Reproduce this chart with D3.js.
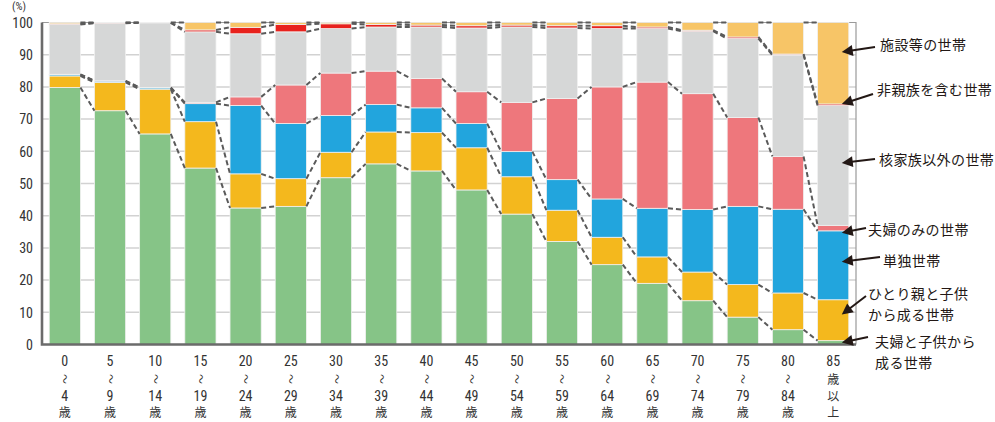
<!DOCTYPE html>
<html><head><meta charset="utf-8">
<script src="https://cdn.jsdelivr.net/npm/d3@7"></script>
<style>
html,body{margin:0;padding:0;background:#fff;}
svg{display:block;}
</style></head>
<body>
<svg id="chart" width="995" height="422"></svg>
<script>
// ---- data ----
const ageFrom = ["0","5","10","15","20","25","30","35","40","45","50","55","60","65","70","75","80","85"];
const ageTo   = ["4","9","14","19","24","29","34","39","44","49","54","59","64","69","74","79","84",""];
const seriesNames = ["夫婦と子供から成る世帯","ひとり親と子供から成る世帯","単独世帯","夫婦のみの世帯","核家族以外の世帯","非親族を含む世帯","施設等の世帯"];
const coupleChildren = [79.8,72.6,65.4,54.8,42.4,42.9,51.8,56.1,53.9,48.0,40.5,32.0,24.8,19.0,13.6,8.5,4.6,1.2];
const singleParent   = [3.6,8.8,13.9,14.4,10.6,8.6,7.9,9.9,11.9,13.1,11.6,9.7,8.5,8.2,8.9,10.1,11.4,12.7];
const singleHH       = [0.4,0.4,0.4,5.6,21.2,17.1,11.4,8.5,7.7,7.5,7.8,9.5,11.9,15.1,19.4,24.3,26.0,21.4];
const coupleOnly     = [0.1,0.1,0.1,0.4,2.7,12.0,13.2,10.4,9.1,9.9,15.3,25.2,34.8,39.2,36.0,27.6,16.4,1.7];
const otherKin       = [15.5,17.9,20.1,21.9,19.6,16.5,13.8,13.7,16.0,19.8,23.4,21.9,18.1,16.6,19.4,24.5,31.5,37.2];
const nonKin         = [0.2,0.1,0.05,0.6,2.0,2.3,1.5,0.8,0.6,0.7,0.6,0.7,0.9,0.5,0.3,0.5,0.3,0.5];
const facility       = [0.4,0.1,0.05,2.3,1.5,0.6,0.4,0.6,0.8,1.0,0.8,1.0,1.0,1.4,2.4,4.5,9.8,25.3];
const yTicks = [0,10,20,30,40,50,60,70,80,90,100];
// annotation labels (right side) with the value they point at on the last bar
const annotLines = [["施設等の世帯"],["非親族を含む世帯"],["核家族以外の世帯"],["夫婦のみの世帯"],["単独世帯"],["ひとり親と子供","から成る世帯"],["夫婦と子供から","成る世帯"]];
const annotTarget = [90.8,74.7,56.4,34.7,25.7,9.3,0.6];

// ---- layout ----
const colors = ["#86C487","#F4B81D","#22A5DD","#EE777C","#D6D7D7","#E8221D","#F7C567"];
const allSeries = [coupleChildren,singleParent,singleHH,coupleOnly,otherKin,nonKin,facility];
const cats = ageFrom.map((d,i)=>i);
const rows = cats.map(i=>{const r={cat:i}; seriesNames.forEach((s,k)=>r[s]=allSeries[k][i]); return r;});
const stacked = d3.stack().keys(seriesNames)(rows);

const svg = d3.select("#chart");
const L=42, R=856, T=22.5, B=344.5;
const x = d3.scaleBand().domain(cats).range([L,R]).paddingInner(0.31).paddingOuter(0.16);
const y = d3.scaleLinear().domain([0,100]).range([B,T]);
const numFont = "'Liberation Sans Narrow','Arial Narrow','Roboto Condensed','Liberation Sans',sans-serif";
const jpFont = "'Noto Sans CJK JP','Noto Sans',sans-serif";

// gridlines
svg.append("g").selectAll("line").data(yTicks.filter(t=>t>0&&t<100)).join("line")
  .attr("x1",L).attr("x2",R).attr("y1",d=>y(d)).attr("y2",d=>y(d))
  .attr("stroke","#d2d2d2").attr("stroke-width",1.5);

// plot border (top/right)
svg.append("path").attr("d",`M${L},${T}H${R}V${B}`).attr("fill","none").attr("stroke","#9a9a9a").attr("stroke-width",1.2);

// bars
const gBars = svg.append("g");
stacked.forEach((layer,k)=>{
  gBars.append("g").selectAll("rect").data(layer).join("rect")
    .attr("x",d=>x(d.data.cat)).attr("width",x.bandwidth())
    .attr("y",d=>y(d[1])).attr("height",d=>Math.max(0,y(d[0])-y(d[1])))
    .attr("fill",colors[k]).attr("stroke","#f0f0f0").attr("stroke-width",0.8);
});

// series lines (dashed connectors)
const gLines = svg.append("g");
stacked.forEach((layer,k)=>{
  for(let i=0;i<layer.length-1;i++){
    gLines.append("line")
      .attr("x1",x(i)+x.bandwidth()).attr("y1",y(layer[i][1]))
      .attr("x2",x(i+1)).attr("y2",y(layer[i+1][1]))
      .attr("stroke","#5a5a5a").attr("stroke-width",2).attr("stroke-dasharray","5,3");
  }
});

// axes lines
svg.append("path").attr("d",`M${L},${T}V${B}H${R}`).attr("fill","none").attr("stroke","#6b6b6b").attr("stroke-width",2.6);

// y axis labels
const yAxis = d3.axisLeft(y).tickValues(yTicks).tickSize(0).tickPadding(9);
const gy = svg.append("g").attr("transform",`translate(${L},0)`).call(yAxis);
gy.select(".domain").remove();
gy.selectAll("text").attr("font-family",numFont).attr("font-size",14).attr("fill","#333").attr("dy","0.34em");

svg.append("text").attr("x",12).attr("y",10).attr("font-family",numFont).attr("font-size",11).attr("fill","#333").text("(%)");

// x labels (vertical stacks)
const gx = svg.append("g");
cats.forEach(i=>{
  const cx = x(i)+x.bandwidth()/2;
  const g = gx.append("g").attr("transform",`translate(${cx},0)`);
  g.append("text").attr("y",366).attr("text-anchor","middle").attr("font-family",numFont).attr("font-size",14).attr("fill","#333").text(ageFrom[i]);
  if(ageTo[i]!==""){
    g.append("text").attr("transform","translate(0,379) rotate(90)").attr("text-anchor","middle").attr("dy","0.35em")
      .attr("font-family",jpFont).attr("font-size",10).attr("fill","#333").text("～");
    g.append("text").attr("y",401).attr("text-anchor","middle").attr("font-family",numFont).attr("font-size",14).attr("fill","#333").text(ageTo[i]);
    g.append("text").attr("y",417).attr("text-anchor","middle").attr("font-family",jpFont).attr("font-size",12).attr("fill","#333").text("歳");
  } else {
    ["歳","以","上"].forEach((c,j)=>{
      g.append("text").attr("y",384+j*16.5).attr("text-anchor","middle").attr("font-family",jpFont).attr("font-size",12).attr("fill","#333").text(c);
    });
  }
});

// annotations
const annotPos = [
  {tx:880,ty:50,ax:875,ay:47},
  {tx:877,ty:95,ax:873,ay:94},
  {tx:879,ty:165,ax:875,ay:159},
  {tx:868,ty:235,ax:866,ay:228},
  {tx:883,ty:266,ax:880,ay:257},
  {tx:868,ty:299,ax:866,ay:296},
  {tx:875,ty:347,ax:868,ay:337}
];
const gA = svg.append("g");
annotLines.forEach((lines,k)=>{
  const p = annotPos[k];
  const t = gA.append("text").attr("font-family",jpFont).attr("font-size",14).attr("letter-spacing",0.4).attr("fill","#231815");
  lines.forEach((ln,j)=>t.append("tspan").attr("x",p.tx).attr("y",p.ty+j*21).text(ln));
  const hx = x(17)+x.bandwidth()-7, hy = y(annotTarget[k]);
  const dx = hx-p.ax, dy = hy-p.ay, len=Math.hypot(dx,dy), ux=dx/len, uy=dy/len;
  const hl=11, hw=5.5;
  const bx = hx-ux*hl, by = hy-uy*hl;
  gA.append("line").attr("x1",p.ax).attr("y1",p.ay).attr("x2",bx+ux*1).attr("y2",by+uy*1).attr("stroke","#231815").attr("stroke-width",2);
  gA.append("path").attr("d",`M${hx},${hy}L${bx-uy*hw},${by+ux*hw}L${bx+uy*hw},${by-ux*hw}Z`).attr("fill","#231815");
});
</script>
</body></html>
